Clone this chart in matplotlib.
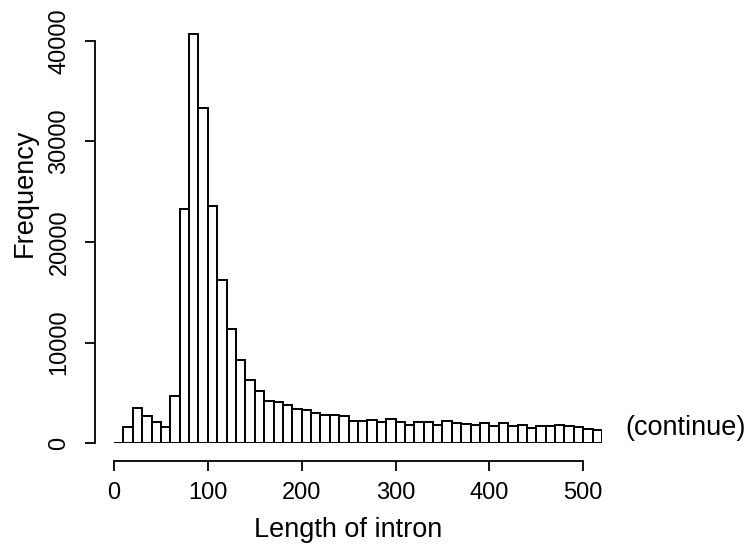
import numpy as np
import matplotlib
matplotlib.use("Agg")
import matplotlib.pyplot as plt

plt.rcParams['font.family'] = ['Liberation Sans', 'DejaVu Sans']

# histogram of intron lengths, 10 bp bins from 0 to 520
bin_left = list(range(0, 520, 10))
counts = [0, 1560, 3450, 2710, 2060, 1560, 4670, 23300, 40700, 33370,
          23590, 16200, 11330, 8250, 6260, 5200, 4200, 4100, 3780, 3350,
          3250, 2980, 2810, 2750, 2710, 2220, 2220, 2250, 2060, 2350,
          2060, 1820, 2060, 2060, 1790, 2190, 1990, 1850, 1820, 1950,
          1690, 1950, 1660, 1750, 1520, 1660, 1660, 1750, 1660, 1560,
          1360, 1260]
x_ticks = [0, 100, 200, 300, 400, 500]
y_ticks = [0, 10000, 20000, 30000, 40000]

W, H = 749, 548
fig = plt.figure(figsize=(W / 100, H / 100), dpi=100, facecolor="white")
ax = fig.add_axes((114 / W, 1 - 443 / H, (602 - 114) / W, (443 - 28) / H))

ax.bar(bin_left, counts, width=10, align="edge", facecolor="white",
       edgecolor="black", linewidth=1.4)
ax.set_xlim(0, 520)
ax.set_ylim(0, 40000 * (443 - 28) / (443 - 41))

for s in ("top", "right"):
    ax.spines[s].set_visible(False)
ax.spines["left"].set_position(("outward", 13.7))
ax.spines["bottom"].set_position(("outward", 13))
ax.spines["left"].set_bounds(0, 40000)
ax.spines["bottom"].set_bounds(0, 500)
for s in ("left", "bottom"):
    ax.spines[s].set_linewidth(1.3)

ax.set_xticks(x_ticks)
ax.set_yticks(y_ticks)
ax.tick_params(length=7.2, width=1.3, labelsize=17, pad=8)
ax.tick_params(axis="y", labelrotation=90, pad=10.5)
for lab in ax.get_yticklabels():
    lab.set_va("center")

ax.set_xlabel("Length of intron", fontsize=19.5)
ax.set_ylabel("Frequency", fontsize=19.5)
ax.xaxis.set_label_coords((348 - 114) / 488, -(530 - 443) / 415, transform=ax.transAxes)
ax.yaxis.set_label_coords(-(114 - 25) / 488, (443 - 193) / 415, transform=ax.transAxes)
ax.xaxis.label.set_va("center")
ax.yaxis.label.set_va("center")

fig.text(625 / W, 1 - 428 / H, "(continue)", fontsize=19.5, va="center", ha="left")

fig.savefig("out.png", dpi=100)
